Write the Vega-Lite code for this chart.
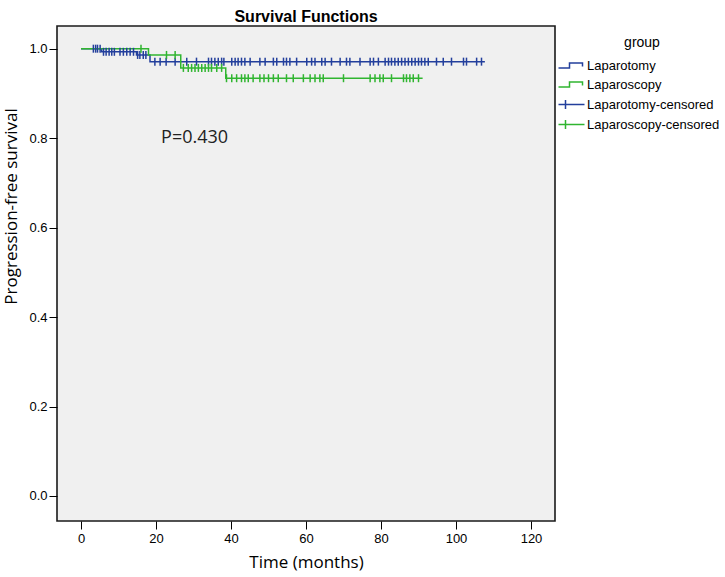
{
  "$schema": "https://vega.github.io/schema/vega-lite/v6.json",
  "width": 498,
  "height": 495,
  "autosize": {"type": "none"},
  "padding": {"left": 57, "top": 26, "right": 170, "bottom": 56},
  "background": "white",
  "title": {
    "text": "Survival Functions",
    "font": "Liberation Sans",
    "fontSize": 16,
    "fontWeight": "bold",
    "color": "black",
    "anchor": "middle",
    "baseline": "alphabetic",
    "offset": 6,
    "dy": 18
  },
  "config": {
    "view": {"stroke": "#1a1a1a", "strokeWidth": 1.6, "fill": "#f0f0f0"},
    "axis": {
      "domain": false,
      "grid": false,
      "tickColor": "black",
      "tickSize": 8,
      "tickWidth": 1,
      "labelFont": "Liberation Sans",
      "labelFontSize": 13,
      "labelColor": "black",
      "titleFont": "Open Sans",
      "titleFontSize": 17,
      "titleFontWeight": "normal",
      "titleColor": "black"
    }
  },
  "datasets": {
    "curves": [
      {"group": "Laparotomy", "t": 0, "s": 1.0},
      {"group": "Laparotomy", "t": 5.5, "s": 0.993},
      {"group": "Laparotomy", "t": 14.8, "s": 0.986},
      {"group": "Laparotomy", "t": 18.4, "s": 0.971},
      {"group": "Laparotomy", "t": 107.7, "s": 0.971},
      {"group": "Laparoscopy", "t": 0, "s": 1.0},
      {"group": "Laparoscopy", "t": 18.0, "s": 0.986},
      {"group": "Laparoscopy", "t": 26.6, "s": 0.957},
      {"group": "Laparoscopy", "t": 38.6, "s": 0.934},
      {"group": "Laparoscopy", "t": 91.1, "s": 0.934}
    ],
    "censored": [
      {"group": "Laparotomy-censored", "t": 3.3, "s": 1.0},
      {"group": "Laparotomy-censored", "t": 3.9, "s": 1.0},
      {"group": "Laparotomy-censored", "t": 4.4, "s": 1.0},
      {"group": "Laparotomy-censored", "t": 5.1, "s": 1.0},
      {"group": "Laparotomy-censored", "t": 6.0, "s": 0.993},
      {"group": "Laparotomy-censored", "t": 6.7, "s": 0.993},
      {"group": "Laparotomy-censored", "t": 7.5, "s": 0.993},
      {"group": "Laparotomy-censored", "t": 8.2, "s": 0.993},
      {"group": "Laparotomy-censored", "t": 8.9, "s": 0.993},
      {"group": "Laparotomy-censored", "t": 10.4, "s": 0.993},
      {"group": "Laparotomy-censored", "t": 11.3, "s": 0.993},
      {"group": "Laparotomy-censored", "t": 12.2, "s": 0.993},
      {"group": "Laparotomy-censored", "t": 13.1, "s": 0.993},
      {"group": "Laparotomy-censored", "t": 14.0, "s": 0.993},
      {"group": "Laparotomy-censored", "t": 15.1, "s": 0.986},
      {"group": "Laparotomy-censored", "t": 15.7, "s": 0.986},
      {"group": "Laparotomy-censored", "t": 16.6, "s": 0.986},
      {"group": "Laparotomy-censored", "t": 17.3, "s": 0.986},
      {"group": "Laparotomy-censored", "t": 19.7, "s": 0.971},
      {"group": "Laparotomy-censored", "t": 21.1, "s": 0.971},
      {"group": "Laparotomy-censored", "t": 22.7, "s": 0.971},
      {"group": "Laparotomy-censored", "t": 25.1, "s": 0.971},
      {"group": "Laparotomy-censored", "t": 28.2, "s": 0.971},
      {"group": "Laparotomy-censored", "t": 30.8, "s": 0.971},
      {"group": "Laparotomy-censored", "t": 34.0, "s": 0.971},
      {"group": "Laparotomy-censored", "t": 34.8, "s": 0.971},
      {"group": "Laparotomy-censored", "t": 35.7, "s": 0.971},
      {"group": "Laparotomy-censored", "t": 36.6, "s": 0.971},
      {"group": "Laparotomy-censored", "t": 37.5, "s": 0.971},
      {"group": "Laparotomy-censored", "t": 38.1, "s": 0.971},
      {"group": "Laparotomy-censored", "t": 40.2, "s": 0.971},
      {"group": "Laparotomy-censored", "t": 41.1, "s": 0.971},
      {"group": "Laparotomy-censored", "t": 41.9, "s": 0.971},
      {"group": "Laparotomy-censored", "t": 42.8, "s": 0.971},
      {"group": "Laparotomy-censored", "t": 43.7, "s": 0.971},
      {"group": "Laparotomy-censored", "t": 45.1, "s": 0.971},
      {"group": "Laparotomy-censored", "t": 47.7, "s": 0.971},
      {"group": "Laparotomy-censored", "t": 49.1, "s": 0.971},
      {"group": "Laparotomy-censored", "t": 51.3, "s": 0.971},
      {"group": "Laparotomy-censored", "t": 52.2, "s": 0.971},
      {"group": "Laparotomy-censored", "t": 54.0, "s": 0.971},
      {"group": "Laparotomy-censored", "t": 54.8, "s": 0.971},
      {"group": "Laparotomy-censored", "t": 55.7, "s": 0.971},
      {"group": "Laparotomy-censored", "t": 57.5, "s": 0.971},
      {"group": "Laparotomy-censored", "t": 60.2, "s": 0.971},
      {"group": "Laparotomy-censored", "t": 61.5, "s": 0.971},
      {"group": "Laparotomy-censored", "t": 62.4, "s": 0.971},
      {"group": "Laparotomy-censored", "t": 64.2, "s": 0.971},
      {"group": "Laparotomy-censored", "t": 65.1, "s": 0.971},
      {"group": "Laparotomy-censored", "t": 66.8, "s": 0.971},
      {"group": "Laparotomy-censored", "t": 69.1, "s": 0.971},
      {"group": "Laparotomy-censored", "t": 70.8, "s": 0.971},
      {"group": "Laparotomy-censored", "t": 71.7, "s": 0.971},
      {"group": "Laparotomy-censored", "t": 74.4, "s": 0.971},
      {"group": "Laparotomy-censored", "t": 77.1, "s": 0.971},
      {"group": "Laparotomy-censored", "t": 78.0, "s": 0.971},
      {"group": "Laparotomy-censored", "t": 79.3, "s": 0.971},
      {"group": "Laparotomy-censored", "t": 81.1, "s": 0.971},
      {"group": "Laparotomy-censored", "t": 82.0, "s": 0.971},
      {"group": "Laparotomy-censored", "t": 82.8, "s": 0.971},
      {"group": "Laparotomy-censored", "t": 83.7, "s": 0.971},
      {"group": "Laparotomy-censored", "t": 84.6, "s": 0.971},
      {"group": "Laparotomy-censored", "t": 85.5, "s": 0.971},
      {"group": "Laparotomy-censored", "t": 86.4, "s": 0.971},
      {"group": "Laparotomy-censored", "t": 87.3, "s": 0.971},
      {"group": "Laparotomy-censored", "t": 88.2, "s": 0.971},
      {"group": "Laparotomy-censored", "t": 89.1, "s": 0.971},
      {"group": "Laparotomy-censored", "t": 90.0, "s": 0.971},
      {"group": "Laparotomy-censored", "t": 90.8, "s": 0.971},
      {"group": "Laparotomy-censored", "t": 91.7, "s": 0.971},
      {"group": "Laparotomy-censored", "t": 92.6, "s": 0.971},
      {"group": "Laparotomy-censored", "t": 94.8, "s": 0.971},
      {"group": "Laparotomy-censored", "t": 96.6, "s": 0.971},
      {"group": "Laparotomy-censored", "t": 98.8, "s": 0.971},
      {"group": "Laparotomy-censored", "t": 102.0, "s": 0.971},
      {"group": "Laparotomy-censored", "t": 102.8, "s": 0.971},
      {"group": "Laparotomy-censored", "t": 105.5, "s": 0.971},
      {"group": "Laparotomy-censored", "t": 106.8, "s": 0.971},
      {"group": "Laparoscopy-censored", "t": 16.0, "s": 1.0},
      {"group": "Laparoscopy-censored", "t": 22.8, "s": 0.986},
      {"group": "Laparoscopy-censored", "t": 25.1, "s": 0.986},
      {"group": "Laparoscopy-censored", "t": 27.3, "s": 0.957},
      {"group": "Laparoscopy-censored", "t": 28.6, "s": 0.957},
      {"group": "Laparoscopy-censored", "t": 29.5, "s": 0.957},
      {"group": "Laparoscopy-censored", "t": 30.4, "s": 0.957},
      {"group": "Laparoscopy-censored", "t": 31.3, "s": 0.957},
      {"group": "Laparoscopy-censored", "t": 32.2, "s": 0.957},
      {"group": "Laparoscopy-censored", "t": 33.1, "s": 0.957},
      {"group": "Laparoscopy-censored", "t": 34.0, "s": 0.957},
      {"group": "Laparoscopy-censored", "t": 34.8, "s": 0.957},
      {"group": "Laparoscopy-censored", "t": 36.2, "s": 0.957},
      {"group": "Laparoscopy-censored", "t": 37.5, "s": 0.957},
      {"group": "Laparoscopy-censored", "t": 38.8, "s": 0.934},
      {"group": "Laparoscopy-censored", "t": 40.2, "s": 0.934},
      {"group": "Laparoscopy-censored", "t": 41.5, "s": 0.934},
      {"group": "Laparoscopy-censored", "t": 42.8, "s": 0.934},
      {"group": "Laparoscopy-censored", "t": 43.7, "s": 0.934},
      {"group": "Laparoscopy-censored", "t": 44.6, "s": 0.934},
      {"group": "Laparoscopy-censored", "t": 45.9, "s": 0.934},
      {"group": "Laparoscopy-censored", "t": 47.7, "s": 0.934},
      {"group": "Laparoscopy-censored", "t": 48.8, "s": 0.934},
      {"group": "Laparoscopy-censored", "t": 50.0, "s": 0.934},
      {"group": "Laparoscopy-censored", "t": 51.3, "s": 0.934},
      {"group": "Laparoscopy-censored", "t": 52.6, "s": 0.934},
      {"group": "Laparoscopy-censored", "t": 54.8, "s": 0.934},
      {"group": "Laparoscopy-censored", "t": 56.6, "s": 0.934},
      {"group": "Laparoscopy-censored", "t": 59.3, "s": 0.934},
      {"group": "Laparoscopy-censored", "t": 61.1, "s": 0.934},
      {"group": "Laparoscopy-censored", "t": 62.4, "s": 0.934},
      {"group": "Laparoscopy-censored", "t": 63.7, "s": 0.934},
      {"group": "Laparoscopy-censored", "t": 64.6, "s": 0.934},
      {"group": "Laparoscopy-censored", "t": 70.0, "s": 0.934},
      {"group": "Laparoscopy-censored", "t": 77.1, "s": 0.934},
      {"group": "Laparoscopy-censored", "t": 78.4, "s": 0.934},
      {"group": "Laparoscopy-censored", "t": 79.7, "s": 0.934},
      {"group": "Laparoscopy-censored", "t": 80.6, "s": 0.934},
      {"group": "Laparoscopy-censored", "t": 82.8, "s": 0.934},
      {"group": "Laparoscopy-censored", "t": 86.0, "s": 0.934},
      {"group": "Laparoscopy-censored", "t": 86.8, "s": 0.934},
      {"group": "Laparoscopy-censored", "t": 87.7, "s": 0.934},
      {"group": "Laparoscopy-censored", "t": 88.6, "s": 0.934},
      {"group": "Laparoscopy-censored", "t": 90.0, "s": 0.934}
    ],
    "note": [
      {"label": "P=0.430", "t": 30.3, "s": 0.8}
    ]
  },
  "layer": [
    {
      "data": {"name": "curves"},
      "mark": {"type": "line", "interpolate": "step-after", "strokeWidth": 1.5},
      "encoding": {
        "x": {
          "field": "t",
          "type": "quantitative",
          "scale": {"domain": [-6.4, 126.4], "nice": false, "zero": false},
          "axis": {
            "values": [0, 20, 40, 60, 80, 100, 120],
            "title": "Time (months)",
            "labelPadding": 3,
            "titleBaseline": "middle",
            "titleY": 41
          }
        },
        "y": {
          "field": "s",
          "type": "quantitative",
          "scale": {"domain": [-0.0559, 1.0507], "nice": false, "zero": false},
          "axis": {
            "values": [0, 0.2, 0.4, 0.6, 0.8, 1.0],
            "format": ".1f",
            "title": "Progression-free survival",
            "labelPadding": 2,
            "titleAngle": 270,
            "titleAlign": "center",
            "titleBaseline": "middle",
            "titleX": -46,
            "titleY": 180
          }
        },
        "color": {
          "field": "group",
          "type": "nominal",
          "scale": {
            "domain": ["Laparotomy", "Laparoscopy", "Laparotomy-censored", "Laparoscopy-censored"],
            "range": ["#233f9c", "#30b530", "#233f9c", "#30b530"]
          },
          "legend": {
            "title": "group",
            "orient": "none",
            "legendX": 508,
            "legendY": 10,
            "padding": 0,
            "titleFont": "Liberation Sans",
            "titleFontSize": 14,
            "titleFontWeight": "normal",
            "titleColor": "black",
            "titleAnchor": "middle",
            "titlePadding": 9,
            "labelFont": "Liberation Sans",
            "labelFontSize": 13,
            "labelColor": "black",
            "labelOffset": 9,
            "rowPadding": 5,
            "symbolSize": 100,
            "encode": {
              "symbols": {
                "update": {
                  "shape": {"signal": "indexof(datum.value, 'censored') >= 0 ? 'M-2.6,0H2.6M-1.2,-0.9V0.9' : 'M-2.6,0.5H-0.4V-0.5H2.2V0.2'"},
                  "fill": {"value": "transparent"},
                  "stroke": {"scale": "color", "field": "value"},
                  "strokeWidth": {"value": 1.5},
                  "size": {"value": 100}
                }
              }
            }
          }
        }
      }
    },
    {
      "data": {"name": "censored"},
      "mark": {
        "type": "point",
        "shape": "M0,-1L0,1",
        "size": 64,
        "filled": false,
        "strokeWidth": 1.5,
        "opacity": 1
      },
      "encoding": {
        "x": {"field": "t", "type": "quantitative"},
        "y": {"field": "s", "type": "quantitative"},
        "color": {"field": "group", "type": "nominal"}
      }
    },
    {
      "data": {"name": "note"},
      "mark": {
        "type": "text",
        "font": "Open Sans",
        "fontSize": 18,
        "fill": "#222222",
        "align": "center",
        "baseline": "middle"
      },
      "encoding": {
        "x": {"field": "t", "type": "quantitative"},
        "y": {"field": "s", "type": "quantitative"},
        "text": {"field": "label"}
      }
    }
  ]
}
